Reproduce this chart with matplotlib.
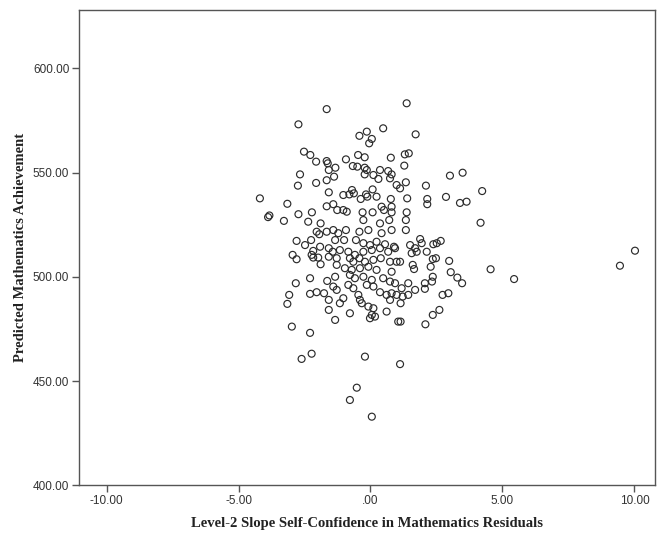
import matplotlib
matplotlib.use("Agg")
import matplotlib.pyplot as plt
from matplotlib.ticker import FuncFormatter

# level-2 slope residuals (x) and predicted achievement (y), one pair per school
slope_resid = [
    -1.66, -2.73, -2.52, -2.28, -2.06, -1.66, -1.62, -1.58, -2.67, -2.06,
    -2.75, -1.66, -1.58, -4.19, -3.15, -1.66, -2.22, -2.73, -3.83, -3.88,
    0.48, -0.14, -0.42, 0.05, -0.05, 0.77, -0.47, -0.22, -0.93, -1.33,
    -0.67, -0.50, -0.22, -0.22, -0.14, 0.11, 0.36, 0.30, 0.67, 0.80,
    0.74, -1.38, 0.99, -1.03, -0.80, -0.70, -0.63, -0.17, 0.08, 0.23,
    -0.37, -0.12, 0.77, -1.41, -1.26, -1.03, -0.90, -0.30, 0.08, 0.42,
    0.51, 0.80, 0.80,
    1.37, 1.71, 1.30, 1.45, 1.28, 3.01, 3.49, 1.34, 2.10, 1.12,
    1.39, 2.15, 2.15, 2.86, 3.39, 3.64, 1.37,
    4.23, 4.17, 10.02, 9.45, 4.55, 5.44,
    -3.28, -2.36, -1.89, -2.04, -1.94, -1.66, -2.80, -2.48, -2.25, -1.91,
    -1.58, -2.17, -2.95, -2.80, -2.23, -2.17, -1.98, -1.89, -1.58, -2.29,
    -2.83, -1.64, -3.08, -2.29, -2.04, -1.76, -3.15, -1.58, -1.58, -2.98,
    -2.29, -2.61, -2.23,
    -0.21, 1.12, -0.52, -0.78, 0.05,
    -0.27, 0.36, 0.71, -1.41, -1.22, -0.93, -0.42, -0.08, 0.42, 0.80,
    -1.34, -1.00, -0.55, -0.27, -0.02, 0.23, 0.55, 0.89, -1.43, -1.16,
    -0.84, -0.59, -0.27, 0.05, 0.36, 0.67, 0.93, -1.28, -0.78, -0.65,
    -0.42, -0.21, 0.11, 0.39, 0.74, 0.99, -1.28, -0.97, -0.71, -0.40,
    -0.08, 0.23, 0.80, -1.34, -0.78, -0.59, -0.27, 0.05, 0.48, 0.74,
    0.93, -1.41, -0.84, -0.65, -0.14, 0.11, -1.28, 0.36, 0.61, 0.80,
    0.99, -1.03, -0.46, -0.40, 0.74, -1.16, -0.33, -0.08, 0.11, 0.61,
    -0.78, 0.05, -1.34, -0.02, 0.17, 1.05,
    1.34, 1.34, 1.88, 1.50, 1.69, 1.94, 1.56, 1.75, 2.13, 2.38,
    2.51, 2.66, 1.12, 2.36, 2.48, 2.28, 1.60, 1.65, 2.98, 3.04,
    3.29, 3.47, 2.36, 2.33, 2.06, 2.06, 1.43, 1.18, 1.69, 1.43,
    1.22, 2.73, 2.95, 1.14, 2.61, 2.36, 2.08, 1.14,
]
pred_achieve = [
    580.4, 573.1, 560.0, 558.4, 555.2, 555.5, 554.4, 551.2, 549.1, 545.0,
    543.7, 546.3, 540.5, 537.6, 535.0, 533.8, 530.9, 530.0, 529.4, 528.6,
    571.2, 569.6, 567.6, 566.1, 564.0, 557.1, 558.4, 557.3, 556.3, 552.3,
    553.1, 552.8, 552.3, 549.1, 551.2, 548.8, 551.2, 546.9, 550.7, 549.1,
    547.2, 548.0, 544.0, 539.2, 539.5, 541.6, 540.0, 539.5, 541.9, 538.4,
    537.3, 538.4, 537.3, 534.8, 532.0, 532.0, 531.2, 530.9, 530.9, 533.6,
    532.0, 533.6, 530.9,
    583.2, 568.3, 558.7, 559.2, 553.3, 548.5, 549.9, 545.3, 543.7, 542.4,
    537.6, 537.3, 534.8, 538.3, 535.4, 536.0, 530.9,
    541.1, 525.9, 512.5, 505.3, 503.6, 498.9,
    526.8, 526.4, 525.6, 521.6, 520.4, 521.6, 517.2, 515.2, 517.6, 514.4,
    513.7, 512.4, 510.5, 508.4, 510.5, 509.2, 509.2, 506.0, 509.6, 499.3,
    496.9, 498.0, 491.3, 491.8, 492.6, 492.1, 487.0, 488.9, 484.1, 476.1,
    473.1, 460.6, 463.1,
    461.7, 458.1, 446.8, 440.9, 432.9,
    527.2, 525.6, 527.2, 522.4, 520.9, 522.4, 521.6, 522.4, 520.9, 522.4,
    517.6, 517.6, 517.6, 516.1, 515.2, 516.8, 515.6, 514.4, 512.0, 512.8,
    512.0, 510.5, 512.0, 512.8, 513.7, 512.0, 513.7, 508.9, 508.9, 507.2,
    508.9, 507.2, 508.1, 508.9, 507.2, 507.2, 505.7, 504.1, 503.3, 504.1,
    504.8, 503.3, 502.4, 500.0, 500.9, 499.3, 500.0, 498.5, 499.3, 497.7,
    496.9, 495.3, 496.1, 494.5, 496.1, 495.3, 493.7, 492.6, 491.3, 492.1,
    491.3, 489.7, 491.3, 488.9, 488.9, 487.3, 487.3, 485.7, 484.9, 483.3,
    482.5, 481.7, 479.3, 480.1, 480.9, 478.5,
    527.2, 522.4, 518.1, 515.2, 513.7, 516.1, 511.3, 512.0, 512.0, 515.6,
    516.1, 517.2, 507.2, 508.5, 508.9, 504.8, 505.7, 503.7, 507.6, 502.2,
    499.6, 496.9, 500.0, 497.7, 496.9, 494.2, 496.9, 494.5, 493.7, 491.3,
    490.5, 491.3, 492.1, 487.3, 484.1, 481.7, 477.2, 478.5,
]

x_ticks = [-10, -5, 0, 5, 10]
y_ticks = [400, 450, 500, 550, 600]


def spss_fmt(v, pos=None):
    # SPSS style: two decimals, no leading zero for 0
    s = "%.2f" % v
    if s.startswith("0."):
        s = s[1:]
    elif s.startswith("-0."):
        s = "-" + s[2:]
    return s


fig = plt.figure(figsize=(6.59, 5.38), dpi=100)
ax = fig.add_axes([0.120, 0.098, 0.874, 0.8825])

ax.scatter(slope_resid, pred_achieve, s=25, facecolors="none",
           edgecolors="#2b2b2b", linewidths=0.85)

ax.set_xlim(-11.04, 10.78)
ax.set_ylim(400, 627.7)
ax.set_xticks(x_ticks)
ax.set_yticks(y_ticks)
ax.xaxis.set_major_formatter(FuncFormatter(spss_fmt))
ax.yaxis.set_major_formatter(FuncFormatter(spss_fmt))

for side in ["left", "bottom", "right", "top"]:
    ax.spines[side].set_color("#555555")
    ax.spines[side].set_linewidth(1.0)

ax.tick_params(direction="out", length=5, width=1, color="#555555",
               labelsize=8.5, labelcolor="#333333", pad=2)
for lab in ax.get_xticklabels() + ax.get_yticklabels():
    lab.set_fontfamily("Liberation Sans")

ax.set_xlabel("Level-2 Slope Self-Confidence in Mathematics Residuals",
              fontsize=10.5, fontweight="bold", family="Liberation Serif",
              color="#222222", labelpad=7)
ax.set_ylabel("Predicted Mathematics Achievement",
              fontsize=10.5, fontweight="bold", family="Liberation Serif",
              color="#222222", labelpad=4)

fig.savefig("out.png", dpi=100)
